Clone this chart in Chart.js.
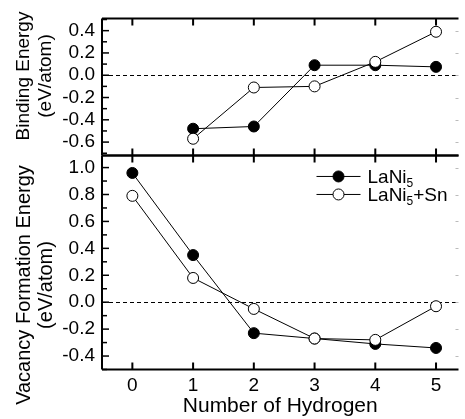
<!DOCTYPE html>
<html>
<head>
<meta charset="utf-8">
<script src="https://cdn.jsdelivr.net/npm/chart.js@4"></script>
<style>
html,body{margin:0;padding:0;background:#fff}
#wrap{width:465px;height:419px;position:relative}
</style>
</head>
<body>
<div id="wrap"><canvas id="c"></canvas></div>
<script>
// values
const hydrogen = [0, 1, 2, 3, 4, 5];
const bindLaNi5   = [null, -0.48, -0.46, 0.09, 0.09, 0.075];
const bindLaNi5Sn = [null, -0.57, -0.11, -0.10, 0.12, 0.39];
const vacLaNi5    = [0.96, 0.35, -0.23, -0.27, -0.31, -0.34];
const vacLaNi5Sn  = [0.79, 0.18, -0.05, -0.27, -0.28, -0.03];
const xTicks    = [0, 1, 2, 3, 4, 5];
const bindTicks = [-0.6, -0.4, -0.2, 0, 0.2, 0.4];
const vacTicks  = [-0.4, -0.2, 0, 0.2, 0.4, 0.6, 0.8, 1.0];
const legendText = [['LaNi', '5', ''], ['LaNi', '5', '+Sn']];

const FONT = "'Liberation Sans', Arial, sans-serif";

function pts(ys){
  return hydrogen.map((x,i)=>({x:x, y:ys[i]})).filter(p=>p.y!==null);
}

function series(label, ys, axis, filled){
  return {
    label: label, data: pts(ys), yAxisID: axis,
    borderColor:'#000', borderWidth:1, tension:0,
    pointRadius:5.5, pointHoverRadius:5.5, pointBorderWidth:1,
    pointBorderColor:'#000', pointBackgroundColor: filled ? '#000' : '#fff',
    order: filled ? 1 : 0
  };
}

function yScale(min, max, ticks, weight){
  return {
    type:'linear', position:'left', stack:'panels', stackWeight:weight,
    min:min, max:max,
    afterBuildTicks: s => { s.ticks = ticks.map(v=>({value:v})); },
    afterFit: s => { s.width = 102; },
    grid:{display:false, drawTicks:false}, border:{display:false},
    ticks:{autoSkip:false, color:'#000', padding:7, font:{family:FONT, size:19},
           callback: v => v.toFixed(1)}
  };
}

// frame, inward ticks, zero lines, legend, y titles
const decor = {
  id:'decor',
  beforeDatasetsDraw(chart){
    const ctx = chart.ctx, x = chart.scales.x;
    ctx.save();
    ctx.strokeStyle = '#000'; ctx.lineWidth = 1; ctx.setLineDash([4,3]);
    ['yBind','yVac'].forEach(id => {
      const py = Math.round(chart.scales[id].getPixelForValue(0)) + 0.5;
      ctx.beginPath(); ctx.moveTo(x.left, py); ctx.lineTo(x.right, py); ctx.stroke();
    });
    ctx.restore();
  },
  afterDatasetsDraw(chart){
    const ctx = chart.ctx, x = chart.scales.x;
    const L = x.left, R = x.right;
    ctx.save();
    ctx.strokeStyle = '#000';
    ['yBind','yVac'].forEach(id => {
      const s = chart.scales[id];
      // frame
      ctx.lineWidth = 2;
      ctx.beginPath();
      ctx.moveTo(L, s.top); ctx.lineTo(R, s.top);
      ctx.moveTo(L, s.bottom); ctx.lineTo(R, s.bottom);
      ctx.moveTo(L, s.top); ctx.lineTo(L, s.bottom);
      ctx.stroke();
      // left ticks every 0.1
      ctx.lineWidth = 1.5;
      const k0 = Math.ceil(s.min*10 - 1e-6), k1 = Math.floor(s.max*10 + 1e-6);
      for (let k = k0; k <= k1; k++){
        const py = s.getPixelForValue(k/10);
        const len = (k % 2 === 0) ? 7 : 5;
        ctx.beginPath(); ctx.moveTo(L, py); ctx.lineTo(L+len, py); ctx.stroke();
      }
      // faint right ticks
      ctx.strokeStyle = '#bbb'; ctx.lineWidth = 1;
      for (let k = k0; k <= k1; k++){
        if (k % 2) continue;
        const py = Math.round(s.getPixelForValue(k/10)) + 0.5;
        ctx.beginPath(); ctx.moveTo(R-3, py); ctx.lineTo(R, py); ctx.stroke();
      }
      ctx.strokeStyle = '#000';
      // x ticks on top and bottom edges
      ctx.lineWidth = 2;
      xTicks.forEach(v => {
        const px = x.getPixelForValue(v);
        ctx.beginPath();
        ctx.moveTo(px, s.top); ctx.lineTo(px, s.top+7);
        ctx.moveTo(px, s.bottom); ctx.lineTo(px, s.bottom-7);
        ctx.stroke();
      });
    });

    // legend
    const sv = chart.scales.yVac;
    const ds = chart.data.datasets.filter(d => d.yAxisID === 'yVac');
    ds.forEach((d, i) => {
      const y = sv.top + 21 + i*18;
      const x0 = R - 142, x1 = R - 98, cx = (x0+x1)/2;
      ctx.strokeStyle = '#000'; ctx.lineWidth = 1;
      ctx.beginPath(); ctx.moveTo(x0, y); ctx.lineTo(x1, y); ctx.stroke();
      ctx.beginPath(); ctx.arc(cx, y, 5.5, 0, Math.PI*2);
      ctx.fillStyle = d.pointBackgroundColor; ctx.fill(); ctx.stroke();
      const parts = legendText[i];
      ctx.fillStyle = '#000'; ctx.textBaseline = 'alphabetic'; ctx.textAlign = 'left';
      let tx = R - 91;
      ctx.font = '19px ' + FONT;
      ctx.fillText(parts[0], tx, y + 6.5); tx += ctx.measureText(parts[0]).width;
      ctx.font = '12px ' + FONT;
      ctx.fillText(parts[1], tx, y + 11); tx += ctx.measureText(parts[1]).width;
      ctx.font = '19px ' + FONT;
      ctx.fillText(parts[2], tx, y + 6.5);
    });

    // y titles
    const titles = [
      {lines:['Binding Energy','(eV/atom)'], cy:76, size:19},
      {lines:['Vacancy Formation Energy','(eV/atom)'], cy:285, size:20}
    ];
    ctx.fillStyle = '#000'; ctx.textAlign = 'center'; ctx.textBaseline = 'middle';
    titles.forEach(t => {
      ctx.save();
      ctx.translate(24, t.cy); ctx.rotate(-Math.PI/2);
      ctx.font = t.size + 'px ' + FONT;
      ctx.fillText(t.lines[0], 0, 0);
      ctx.fillText(t.lines[1], 0, 22);
      ctx.restore();
    });
    ctx.restore();
  }
};

new Chart(document.getElementById('c'), {
  type:'line',
  data:{
    datasets:[
      series('LaNi5', vacLaNi5, 'yVac', true),
      series('LaNi5+Sn', vacLaNi5Sn, 'yVac', false),
      series('LaNi5', bindLaNi5, 'yBind', true),
      series('LaNi5+Sn', bindLaNi5Sn, 'yBind', false)
    ]
  },
  options:{
    responsive:true, maintainAspectRatio:false, animation:false,
    layout:{padding:{top:16, left:0, right:0, bottom:0}},
    plugins:{legend:{display:false}, tooltip:{enabled:false}},
    scales:{
      x:{
        type:'linear', min:-0.5, max:5.37,
        afterBuildTicks: s => { s.ticks = xTicks.map(v=>({value:v})); },
        afterFit: s => { s.height = 49.5; },
        grid:{display:false, drawTicks:false}, border:{display:false},
        ticks:{autoSkip:false, color:'#000', padding:5, font:{family:FONT, size:19},
               callback: v => String(v)},
        title:{display:true, text:'Number of Hydrogen', color:'#000', padding:0,
               font:{family:FONT, size:21}}
      },
      yVac: yScale(-0.5, 1.09, vacTicks, 215.5),
      yBind: yScale(-0.72, 0.51, bindTicks, 138)
    }
  },
  plugins:[decor]
});
</script>
</body>
</html>
